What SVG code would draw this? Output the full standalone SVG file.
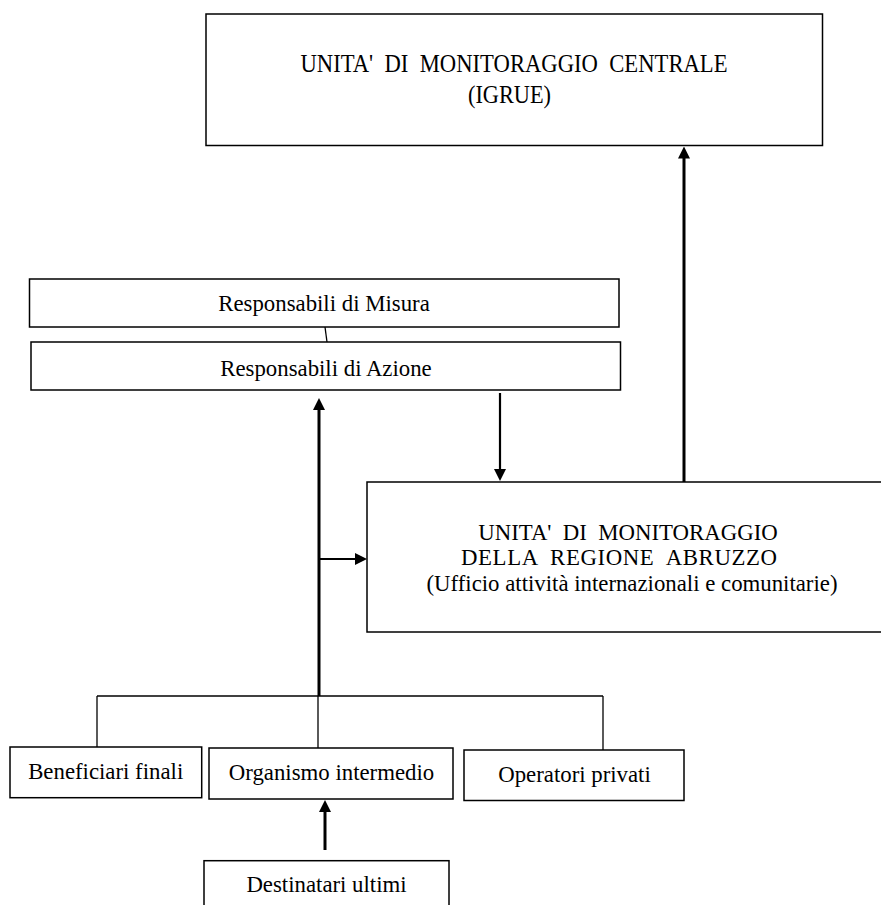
<svg xmlns="http://www.w3.org/2000/svg" width="881" height="905" viewBox="0 0 881 905">
<style>
.box{fill:#fff;stroke:#000;stroke-width:1.5}
.t{font-family:"Liberation Serif","Times New Roman",serif;font-size:22.8px;fill:#000;text-anchor:middle;white-space:pre}
.tl{font-size:25px}
.thin{stroke:#000;stroke-width:1.3;fill:none}
.thick{stroke:#000;stroke-width:3;fill:none}
.mid{stroke:#000;stroke-width:2.2;fill:none}
</style>
<defs>
<marker id="arr" viewBox="0 0 12 12" markerWidth="12" markerHeight="12" refX="2" refY="6" orient="auto" markerUnits="userSpaceOnUse">
<path d="M0,0 L12,6 L0,12 z" fill="#000"/>
</marker>
</defs>
<rect width="881" height="905" fill="#fff"/>
<g id="connectors">
<line class="thin" x1="325" y1="327" x2="327" y2="342"/>
<line class="thick" x1="319" y1="696" x2="319" y2="408" marker-end="url(#arr)"/>
<line class="thick" x1="684" y1="482" x2="684" y2="156.5" marker-end="url(#arr)"/>
<line class="mid" x1="500" y1="393" x2="500" y2="471" marker-end="url(#arr)"/>
<line class="mid" x1="319" y1="559" x2="357" y2="559" marker-end="url(#arr)"/>
<line class="thick" x1="325" y1="850" x2="325" y2="810" marker-end="url(#arr)"/>
<line class="thin" x1="97" y1="696" x2="603" y2="696"/>
<line class="thin" x1="97" y1="696" x2="97" y2="747"/>
<line class="thin" x1="318" y1="696" x2="318" y2="748"/>
<line class="thin" x1="603" y1="696" x2="603" y2="750"/>
</g>
<g id="igrue">
<rect class="box" x="206" y="14" width="616.5" height="131.5"/>
<text class="t tl" x="514" y="72" textLength="427" lengthAdjust="spacingAndGlyphs">UNITA'  DI  MONITORAGGIO  CENTRALE</text>
<text class="t tl" x="509.5" y="103" textLength="83" lengthAdjust="spacingAndGlyphs">(IGRUE)</text>
</g>
<g id="resp-misura">
<rect class="box" x="29.5" y="279" width="589.5" height="48"/>
<text class="t" x="324" y="311">Responsabili di Misura</text>
</g>
<g id="resp-azione">
<rect class="box" x="31" y="342" width="589.5" height="48"/>
<text class="t" x="326" y="376">Responsabili di Azione</text>
</g>
<g id="regione">
<rect class="box" x="367" y="482" width="530" height="150"/>
<text class="t" x="628" y="540">UNITA'  DI  MONITORAGGIO</text>
<text class="t" x="619" y="565" textLength="316" lengthAdjust="spacing">DELLA  REGIONE  ABRUZZO</text>
<text class="t" x="632" y="591">(Ufficio attività internazionali e comunitarie)</text>
</g>
<g id="beneficiari">
<rect class="box" x="10" y="747" width="191.7" height="50.7"/>
<text class="t" x="105.7" y="779">Beneficiari finali</text>
</g>
<g id="organismo">
<rect class="box" x="209" y="748" width="244" height="51"/>
<text class="t" x="331.5" y="780">Organismo intermedio</text>
</g>
<g id="operatori">
<rect class="box" x="464" y="750" width="220" height="50.5"/>
<text class="t" x="574.5" y="782">Operatori privati</text>
</g>
<g id="destinatari">
<rect class="box" x="204" y="860.7" width="245" height="60"/>
<text class="t" x="326.5" y="892">Destinatari ultimi</text>
</g>
</svg>
